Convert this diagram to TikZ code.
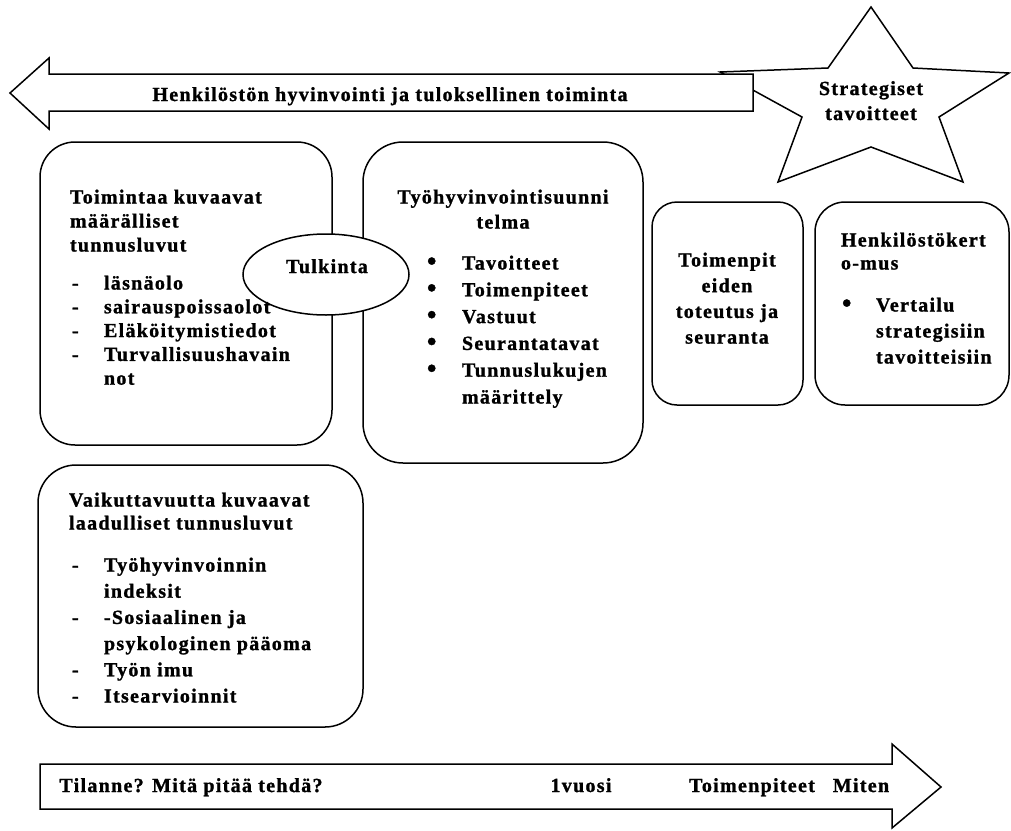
\documentclass[tikz,border=0pt]{standalone}
\usepackage{fontspec}
\usetikzlibrary{shapes.geometric}
\setmainfont{Liberation Serif}
\newfontfamily\spfont[LetterSpace=6.5, BoldFeatures={FakeBold=1.2}]{Liberation Serif}
\newcommand\cenln[1]{\hbox to 0pt{\hss#1\hss}}
\newcommand\lftln[1]{\hbox{#1}}
\newcommand\blk[2]{\vtop{\baselineskip=#1pt\lineskiplimit=-50pt\lineskip=0pt #2}}
\newcommand\dsh{\makebox[32pt][l]{-}}
\newcommand\blt[1]{\makebox[#1pt][l]{\raisebox{-0.5pt}{\scalebox{1.35}{•}}}}
\begin{document}
\begin{tikzpicture}[x=1pt,y=-1pt,
  every node/.style={font=\spfont\bfseries\fontsize{20}{24}\selectfont, inner sep=0pt, outer sep=0pt},
  rbox/.style={draw, line width=1.5pt, rounded corners=#1, fill=white, anchor=north west},
  outl/.style={draw, line width=1.5pt, line join=miter, fill=white},
  txt/.style={anchor=base west},
  ctxt/.style={anchor=base}]
\useasboundingbox (0,0) rectangle (1011,830);

% star
\draw[outl] (720,72) -- (828,68) -- (871,7) -- (913,68) -- (1009,73) -- (939,117)
  -- (963,182) -- (871,147) -- (778,182) -- (802,117) -- cycle;
\node[ctxt] (stxt) at (871,95) {\blk{25}{\cenln{Strategiset}\cenln{tavoitteet}}};

% top arrow
\draw[outl] (10,93) -- (49,58) -- (49,74) -- (753,74) -- (753,111) -- (49,111) -- (49,129) -- cycle;
\node[ctxt] (toptxt) at (390,101) {Henkilöstön hyvinvointi ja tuloksellinen toiminta};

% boxes
\node[rbox=35pt, minimum width=292pt, minimum height=303pt] (b1) at (40,142) {};
\node[rbox=40pt, minimum width=280pt, minimum height=321pt] (b2) at (363,142) {};
\node[rbox=25pt, minimum width=151pt, minimum height=203pt] (b3) at (652,202) {};
\node[rbox=30pt, minimum width=194pt, minimum height=203pt] (b4) at (815,202) {};
\node[rbox=38pt, minimum width=325pt, minimum height=262pt] (b5) at (38,465) {};

% ellipse
\node[draw, ellipse, line width=1.5pt, fill=white, minimum width=166pt, minimum height=81pt] (tul) at (326,274.5) {};
\node[ctxt] (tultxt) at (327,273) {Tulkinta};

% box 1
\node[txt] (h1) at (70,203.5) {\blk{24}{\lftln{Toimintaa kuvaavat}\lftln{määrälliset}\lftln{tunnusluvut}}};
\node[txt] (l1) at (72,289.5) {\blk{23.8}{\lftln{\dsh läsnäolo}\lftln{\dsh sairauspoissaolot}\lftln{\dsh Eläköitymistiedot}\lftln{\dsh Turvallisuushavain}\lftln{\hspace*{32pt}not}}};

% box 2
\node[ctxt] (h2) at (503,203.5) {\blk{25}{\cenln{Työhyvinvointisuunni}\cenln{telma}}};
\node[txt] (l2) at (427,269.5) {\blk{26.8}{\lftln{\blt{35}Tavoitteet}\lftln{\blt{35}Toimenpiteet}\lftln{\blt{35}Vastuut}\lftln{\blt{35}Seurantatavat}\lftln{\blt{35}Tunnuslukujen}\lftln{\hspace*{35pt}määrittely}}};

% box 3
\node[ctxt] (h3) at (727,266.5) {\blk{25.7}{\cenln{Toimenpit}\cenln{eiden}\cenln{toteutus ja}\cenln{seuranta}}};

% box 4
\node[txt] (h4) at (841,246.5) {\blk{23}{\lftln{Henkilöstökert}\lftln{o-mus}}};
\node[txt] (l4) at (842,311.5) {\blk{26}{\lftln{\blt{34}Vertailu}\lftln{\hspace*{34pt}strategisiin}\lftln{\hspace*{34pt}tavoitteisiin}}};

% box 5
\node[txt] (h5) at (69,506.5) {\blk{23}{\lftln{Vaikuttavuutta kuvaavat}\lftln{laadulliset tunnusluvut}}};
\node[txt] (l5) at (72,571.5) {\blk{26.2}{\lftln{\dsh Työhyvinvoinnin}\lftln{\hspace*{32pt}indeksit}\lftln{\dsh -Sosiaalinen ja}\lftln{\hspace*{32pt}psykologinen pääoma}\lftln{\dsh Työn imu}\lftln{\dsh Itsearvioinnit}}};

% bottom arrow
\draw[outl] (40,764) -- (892,764) -- (892,744) -- (941,787) -- (892,828) -- (892,809) -- (40,809) -- cycle;
\node[ctxt] (bt1) at (191,792) {Tilanne? Mitä pitää tehdä?};
\node[ctxt] (bt2) at (581,792) {1vuosi};
\node[ctxt] (bt3) at (752,792) {Toimenpiteet};
\node[ctxt] (bt4) at (861,792) {Miten};
\end{tikzpicture}
\end{document}
